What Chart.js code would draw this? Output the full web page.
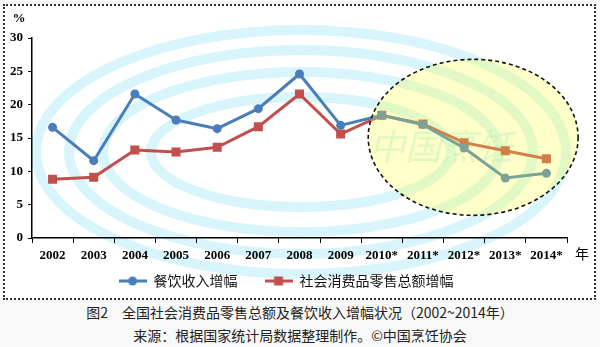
<!DOCTYPE html>
<html>
<head>
<meta charset="utf-8">
<script src="https://cdn.jsdelivr.net/npm/chart.js@4/dist/chart.umd.min.js"></script>
<style>
    body { margin: 0; background: #f8f8f8; width: 600px; height: 347px; overflow: hidden; position: relative; }
    #frame { position: absolute; left: 3px; top: 4px; width: 589px; height: 292px; border: 2px dotted #333; background: #fff; }
    #chart { position: absolute; left: 0; top: 0; }
    .cap { position: absolute; left: 0; width: 600px; text-align: center; font: 14px "Noto Sans CJK SC", sans-serif; color: #222; }
</style>
</head>
<body>
<div id="frame"><canvas id="chart" width="589" height="292"></canvas></div>
<div class="cap" style="top:302px">图2　全国社会消费品零售总额及餐饮收入增幅状况（2002~2014年）</div>
<div class="cap" style="top:325px">来源：根据国家统计局数据整理制作。©中国烹饪协会</div>
<script>
    // data
    var years = ['2002', '2003', '2004', '2005', '2006', '2007', '2008', '2009', '2010*', '2011*', '2012*', '2013*', '2014*'];
    var cateringGrowth = [16.6, 11.6, 21.6, 17.7, 16.4, 19.4, 24.6, 16.9, 18.4, 17.0, 13.5, 9.0, 9.7];
    var retailGrowth = [8.8, 9.1, 13.2, 12.9, 13.6, 16.7, 21.6, 15.6, 18.4, 17.1, 14.3, 13.1, 11.9];
    var yTicks = [0, 5, 10, 15, 20, 25, 30];

    var blue = '#4a7ebb';
    var red = '#c0504d';

    // legend symbols: line with marker in the middle
    function legendIcon(color, shape) {
        var c = document.createElement('canvas');
        c.width = 28; c.height = 10;
        var g = c.getContext('2d');
        g.strokeStyle = color; g.lineWidth = 3;
        g.beginPath(); g.moveTo(0, 5); g.lineTo(28, 5); g.stroke();
        g.fillStyle = color;
        if (shape == 'circle') {
            g.beginPath(); g.arc(14, 5, 4.5, 0, Math.PI * 2); g.fill();
        } else {
            g.fillRect(9.5, 0.5, 9, 9);
        }
        return c;
    }

    // watermark rings + axis unit labels + dashed highlight ellipse
    var decorations = {
        id: 'decorations',
        beforeDraw: function(chart) {
            var ctx = chart.ctx;
            ctx.save();
            ctx.strokeStyle = 'rgba(160,232,244,0.42)';
            ctx.lineWidth = 10;
            [[265, 122], [232, 102], [198, 80], [150, 55]].forEach(function(r) {
                ctx.beginPath();
                ctx.ellipse(296, 146, r[0], r[1], 0, 0, Math.PI * 2);
                ctx.stroke();
            });
            ctx.fillStyle = 'rgba(150,230,235,0.4)';
            ctx.font = 'italic 36px "Noto Sans CJK SC"';
            ctx.textAlign = 'left';
            ctx.textBaseline = 'middle';
            ctx.fillText('中国烹饪', 364, 140);
            ctx.restore();
        },
        afterDatasetsDraw: function(chart) {
            var ctx = chart.ctx;
            var x = chart.scales.x, y = chart.scales.y;
            var cx = x.getPixelForValue(10.22);
            var rx = x.getPixelForValue(10.22 + 2.55) - cx;
            var cy = y.getPixelForValue(15.1);
            var ry = cy - y.getPixelForValue(15.1 + 11.7);
            ctx.save();
            ctx.beginPath();
            ctx.ellipse(cx, cy, rx, ry, 0, 0, Math.PI * 2);
            ctx.fillStyle = 'rgba(255,255,60,0.28)';
            ctx.fill();
            ctx.setLineDash([4, 3]);
            ctx.lineWidth = 1.6;
            ctx.strokeStyle = '#111';
            ctx.stroke();
            ctx.restore();

            ctx.save();
            ctx.fillStyle = '#000';
            ctx.textBaseline = 'middle';
            ctx.textAlign = 'center';
            ctx.font = 'bold 13px "Liberation Serif"';
            ctx.fillText('%', chart.chartArea.left - 13, chart.chartArea.top - 19);
            ctx.font = '14px "Noto Sans CJK SC"';
            ctx.fillText('年', chart.chartArea.right + 15, x.bottom - 14);
            ctx.restore();
        }
    };

    new Chart(document.getElementById('chart'), {
        type: 'line',
        data: {
            labels: years,
            datasets: [{
                label: '餐饮收入增幅',
                data: cateringGrowth,
                borderColor: blue,
                backgroundColor: blue,
                borderWidth: 3,
                pointStyle: 'circle',
                pointRadius: 4.5,
                pointBorderWidth: 0,
                tension: 0
            }, {
                label: '社会消费品零售总额增幅',
                data: retailGrowth,
                borderColor: red,
                backgroundColor: red,
                borderWidth: 3,
                pointStyle: 'rect',
                pointRadius: 6.4,
                pointBorderWidth: 0,
                tension: 0
            }]
        },
        options: {
            responsive: false,
            animation: false,
            layout: { padding: { left: 0, right: 27, top: 32, bottom: 0 } },
            plugins: {
                tooltip: { enabled: false },
                legend: {
                    position: 'bottom',
                    labels: {
                        color: '#111',
                        font: { family: '"Noto Sans CJK SC"', size: 14 },
                        usePointStyle: true,
                        pointStyleWidth: 28,
                        padding: 6,
                        generateLabels: function(chart) {
                            return chart.data.datasets.map(function(ds, i) {
                                return {
                                    // trailing spaces widen the gap between the two items
                                    text: i == 0 ? ds.label + '\u3000\u2002' : ds.label,
                                    datasetIndex: i,
                                    pointStyle: legendIcon(ds.borderColor, i == 0 ? 'circle' : 'rect'),
                                    fontColor: '#111',
                                    lineWidth: 0
                                };
                            });
                        }
                    }
                }
            },
            scales: {
                x: {
                    offset: true,
                    afterFit: function(scale) { scale.height = 30; },
                    grid: { drawOnChartArea: false, drawTicks: true, tickLength: 5, color: '#000', offset: true },
                    border: { color: '#000', width: 1.5 },
                    ticks: { color: '#000', font: { family: '"Liberation Serif"', size: 13, weight: 'bold' }, padding: 5, maxRotation: 0, autoSkip: false }
                },
                y: {
                    min: 0,
                    max: 30,
                    afterFit: function(scale) { scale.width = 27; },
                    afterBuildTicks: function(scale) {
                        scale.ticks = yTicks.map(function(v) { return { value: v }; });
                    },
                    grid: { drawOnChartArea: false, drawTicks: true, tickLength: 4, color: '#000' },
                    border: { color: '#000', width: 1.5 },
                    ticks: { color: '#000', font: { family: '"Liberation Serif"', size: 13, weight: 'bold' }, padding: 5 }
                }
            }
        },
        plugins: [decorations]
    });
</script>
</body>
</html>
